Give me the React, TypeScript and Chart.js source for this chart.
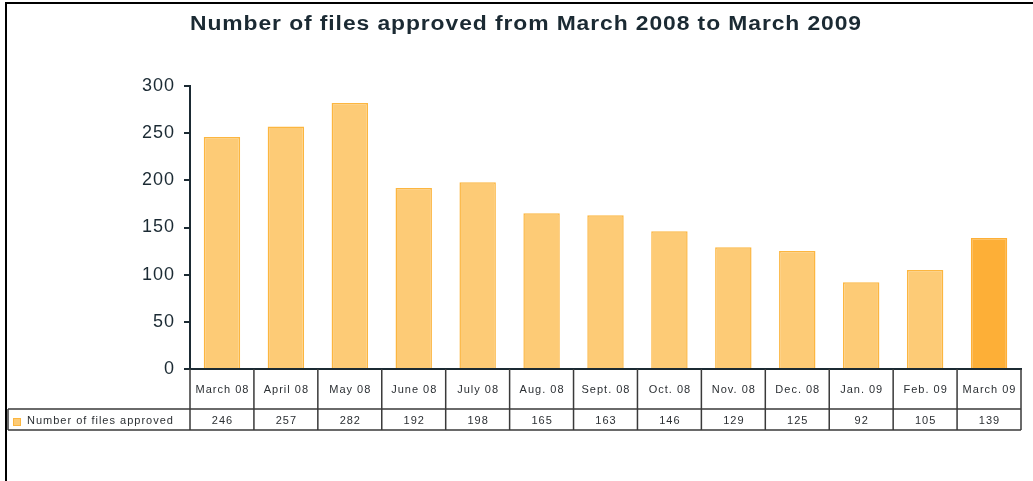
import React, { useEffect, useRef } from "react";
import { Chart, registerables } from "chart.js";

Chart.register(...registerables);

const TITLE = "Number of files approved from March 2008 to March 2009";
const SERIES_LABEL = "Number of files approved";
const categories = [
  "March 08", "April 08", "May 08", "June 08", "July 08", "Aug. 08", "Sept. 08",
  "Oct. 08", "Nov. 08", "Dec. 08", "Jan. 09", "Feb. 09", "March 09",
];
const values = [246, 257, 282, 192, 198, 165, 163, 146, 129, 125, 92, 105, 139];
const yTicks = [0, 50, 100, 150, 200, 250, 300];

const LIGHT = "rgb(253,203,118)";
const LIGHT_BORDER = "rgb(252,182,64)";
const DARK = "rgb(253,175,55)";
const INK = "#1b2a33";
const TABLE_LINE = "#3a3a3a";

const spacingPlugin = {
  id: "spacingPlugin",
  beforeDraw(chart: any) {
    chart.ctx.letterSpacing = "1px";
  },
};

const tablePlugin = {
  id: "tablePlugin",
  afterDraw(chart: any) {
    const ctx = chart.ctx;
    const x = chart.scales.x;
    const area = chart.chartArea;
    const n = categories.length;
    const half = (x.getPixelForValue(1) - x.getPixelForValue(0)) / 2;
    const right = x.getPixelForValue(n - 1) + half;
    const row1Top = area.bottom;
    const row1Bottom = row1Top + 40;
    const row2Bottom = row1Bottom + 21;
    const legendLeft = 8;
    ctx.save();
    // frame
    ctx.strokeStyle = "#000";
    ctx.lineWidth = 2;
    ctx.beginPath();
    ctx.moveTo(6, 481);
    ctx.lineTo(6, 3);
    ctx.lineTo(1033, 3);
    ctx.stroke();

    // title (slightly widened, as in the original)
    ctx.save();
    ctx.fillStyle = INK;
    ctx.letterSpacing = "0.8px";
    ctx.font = "bold 20px 'Liberation Sans', Arial, sans-serif";
    ctx.textAlign = "left";
    ctx.textBaseline = "middle";
    const w = ctx.measureText(TITLE).width;
    const sx = 672 / w;
    ctx.translate(190, 24);
    ctx.scale(sx, 1);
    ctx.fillText(TITLE, 0, 0);
    ctx.restore();

    // table lines
    ctx.strokeStyle = TABLE_LINE;
    ctx.lineWidth = 1.5;
    ctx.beginPath();
    ctx.moveTo(right, row1Top);
    ctx.lineTo(right, row2Bottom);
    for (let i = 0; i < n; i++) {
      const bx = x.getPixelForValue(i) - half;
      ctx.moveTo(bx, row1Top);
      ctx.lineTo(bx, row2Bottom);
    }
    ctx.moveTo(legendLeft, row1Bottom);
    ctx.lineTo(right, row1Bottom);
    ctx.moveTo(legendLeft, row2Bottom);
    ctx.lineTo(right, row2Bottom);
    ctx.moveTo(legendLeft, row1Bottom);
    ctx.lineTo(legendLeft, row2Bottom);
    ctx.stroke();

    // texts
    ctx.fillStyle = "#2b2f33";
    ctx.letterSpacing = "1px";
    ctx.font = "11px 'Liberation Sans', Arial, sans-serif";
    ctx.textAlign = "center";
    ctx.textBaseline = "middle";
    for (let i = 0; i < n; i++) {
      const cx = x.getPixelForValue(i) + 0.5;
      ctx.fillText(categories[i], cx, (row1Top + row1Bottom) / 2 + 1);
      ctx.fillText(String(values[i]), cx, (row1Bottom + row2Bottom) / 2 + 1);
    }
    ctx.textAlign = "left";
    ctx.fillText(SERIES_LABEL, 27, (row1Bottom + row2Bottom) / 2 + 1);
    ctx.fillStyle = LIGHT;
    ctx.fillRect(13, 418, 8, 8);
    ctx.strokeStyle = LIGHT_BORDER;
    ctx.lineWidth = 1;
    ctx.strokeRect(13.5, 418.5, 7, 7);
    ctx.restore();
  },
};

export default function App() {
  const ref = useRef<HTMLCanvasElement | null>(null);
  useEffect(() => {
    if (!ref.current) return;
    const chart = new Chart(ref.current, {
      type: "bar",
      data: {
        labels: categories,
        datasets: [
          {
            label: SERIES_LABEL,
            data: values,
            backgroundColor: values.map((_, i) => (i === values.length - 1 ? DARK : LIGHT)),
            borderColor: values.map((_, i) => (i === values.length - 1 ? DARK : LIGHT_BORDER)),
            borderWidth: 1.5,
            borderSkipped: "bottom",
            categoryPercentage: 1,
            barPercentage: 0.57,
          },
        ],
      },
      options: {
        animation: false,
        responsive: false,
        layout: { padding: { left: 0, right: 12, top: 86, bottom: 112 } },
        plugins: {
          legend: { display: false },
          title: { display: false },
          tooltip: { enabled: false },
        },
        scales: {
          x: {
            type: "category",
            offset: true,
            ticks: { display: false },
            grid: { display: false },
            border: { display: true, color: INK, width: 2 },
            afterFit(scale: any) {
              scale.height = 0;
            },
          },
          y: {
            min: 0,
            max: 300,
            afterBuildTicks(scale: any) {
              scale.ticks = yTicks.map((v) => ({ value: v }));
            },
            ticks: {
              color: INK,
              font: { size: 18, family: "'Liberation Sans', Arial, sans-serif" },
              padding: 9,
            },
            grid: {
              drawOnChartArea: false,
              drawTicks: true,
              tickLength: 6,
              color: INK,
              lineWidth: 2,
            },
            border: { display: true, color: INK, width: 2 },
            afterFit(scale: any) {
              scale.width = 190;
            },
          },
        },
      },
      plugins: [spacingPlugin, tablePlugin],
    });
    return () => chart.destroy();
  }, []);
  return (
    <div style={{ position: "fixed", left: 0, top: 0, width: 1033, height: 481, background: "#fff" }}>
      <canvas ref={ref} width={1033} height={481} style={{ display: "block" }} />
    </div>
  );
}
